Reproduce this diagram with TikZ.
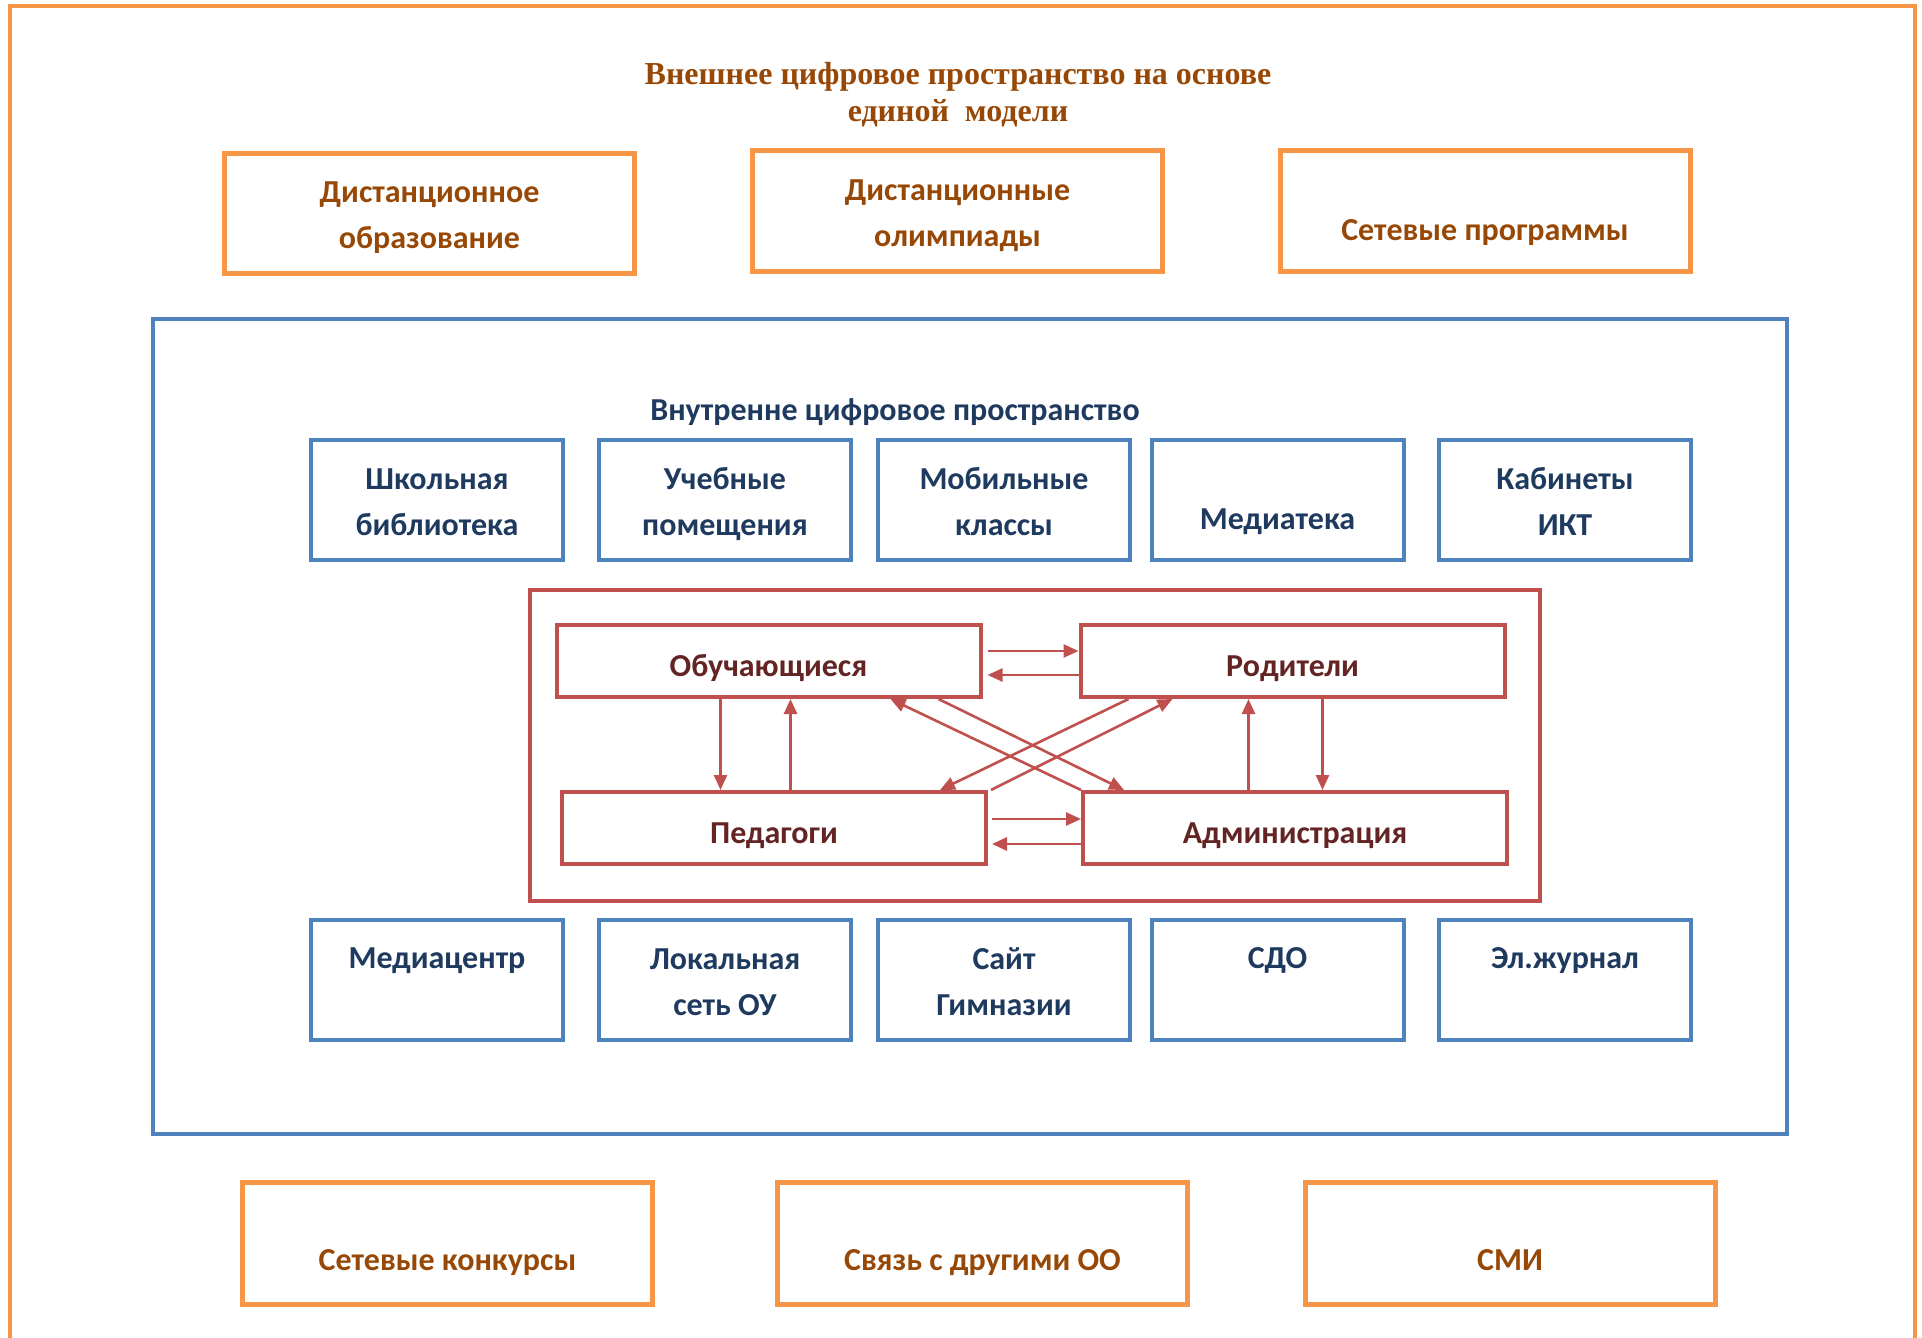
\documentclass[tikz,border=0pt]{standalone}
\usepackage{fontspec}
\setmainfont{Carlito}
\newfontfamily\titlefont{Liberation Serif}
\usetikzlibrary{arrows.meta,positioning}
\definecolor{orline}{HTML}{F79646}
\definecolor{ortext}{HTML}{984806}
\definecolor{blline}{HTML}{4F81BD}
\definecolor{bltext}{HTML}{1F3A5F}
\definecolor{rdline}{HTML}{C0504D}
\definecolor{rdtext}{HTML}{632423}
% move a label inside its box without changing the box
\newcommand{\lowtext}[2]{\raisebox{#1}[\height][\depth]{#2}}

\begin{document}
\begin{tikzpicture}[
    x = 0.5pt, y = -0.5pt,
    > = {Triangle[length=7.5pt,width=6.5pt]},
    boxfont/.style = {font=\bfseries\fontsize{16}{23}\selectfont},
    boxtext/.style = {boxfont, text height=18pt, text depth=2.5pt},
    twoline/.style = {text height=37.5pt},
    outbox/.style = {draw=orline, line width=2.5pt, minimum width=205pt, minimum height=60pt,
        inner sep=0pt, align=center, text=ortext, boxtext},
    inbox/.style = {draw=blline, line width=2pt, minimum width=126pt, minimum height=60pt,
        inner sep=0pt, align=center, text=bltext, boxtext},
    actor/.style = {draw=rdline, line width=2pt, minimum width=212pt, minimum height=36pt,
        inner sep=0pt, text=rdtext, boxtext},
    link/.style = {->, draw=rdline, line width=1.3pt}
]
    \useasboundingbox (0,0) rectangle (1922,1338);

    % outer frame, open at the bottom
    \draw[orline, line width=2pt] (10,1345) -- (10,6) -- (1915,6) -- (1915,1345);

    \node[font=\titlefont\bfseries\fontsize{16}{18.5}\selectfont, text=ortext, align=center]
        (outtitle) at (958,95) {Внешнее цифровое пространство на основе\\единой \ модели};

    \node[outbox, twoline] (dist)  at (429.5,213.5) {Дистанционное\\образование};
    \node[outbox, twoline] (olymp) at (957.5,211)   {Дистанционные\\олимпиады};
    \node[outbox] (netp)  at (1485,211)    {\lowtext{-6.75pt}{Сетевые программы}};

    % inner space
    \draw[blline, line width=2pt] (153,319) rectangle (1787,1134);
    \node[boxfont, text=bltext] (intitle) at (895,412) {Внутренне цифровое пространство};

    \node[inbox, twoline] (lib)   at (437,500)    {Школьная\\библиотека};
    \node[inbox, twoline] (rooms) at (725,500)    {Учебные\\помещения};
    \node[inbox, twoline] (mobil) at (1004,500)   {Мобильные\\классы};
    \node[inbox] (media) at (1277.5,500) {\lowtext{-6.75pt}{Медиатека}};
    \node[inbox, twoline] (ikt)   at (1565,500)   {Кабинеты\\ИКТ};

    \node[inbox] (mcent) at (437,980)    {\lowtext{13.5pt}{Медиацентр}};
    \node[inbox, twoline] (lan)   at (725,980)    {Локальная\\сеть ОУ};
    \node[inbox, twoline] (site)  at (1004,980)   {Сайт\\Гимназии};
    \node[inbox] (sdo)   at (1277.5,980) {\lowtext{13.5pt}{СДО}};
    \node[inbox] (ejour) at (1565,980)   {\lowtext{13.5pt}{Эл.журнал}};

    % participants
    \draw[rdline, line width=2pt] (530,590) rectangle (1540,901);
    \node[actor] (pupil)  at (768.5,661) {Обучающиеся};
    \node[actor] (parent) at (1292.5,661) {Родители};
    \node[actor] (teach)  at (774,828)   {Педагоги};
    \node[actor] (admin)  at (1295,828)  {Администрация};

    \draw[link] ([xshift=2.5pt,yshift=5pt]pupil.east) -- ([yshift=5pt]pupil.east -| parent.west);
    \draw[link] ([yshift=-7pt]pupil.east -| parent.west) -- ([xshift=2.5pt,yshift=-7pt]pupil.east);
    \draw[link] ([xshift=-24pt]pupil.south) -- ([xshift=-24pt]pupil.south |- teach.north);
    \draw[link] ([xshift=11pt]pupil.south |- teach.north) -- ([xshift=11pt]pupil.south);
    \draw[link] ([xshift=-22pt]parent.south |- admin.north) -- ([xshift=-22pt]parent.south);
    \draw[link] ([xshift=15pt]parent.south) -- ([xshift=15pt]parent.south |- admin.north);
    \draw[link] ([xshift=2pt,yshift=4.5pt]teach.east) -- ([yshift=4.5pt]teach.east -| admin.west);
    \draw[link] ([yshift=-8pt]teach.east -| admin.west) -- ([xshift=2pt,yshift=-8pt]teach.east);

    \draw[link] (admin.north west) -- ([xshift=61pt]pupil.south);
    \draw[link] ([xshift=85pt]pupil.south) -- ([xshift=-85.5pt]admin.north);
    \draw[link] ([xshift=-82pt]parent.south) -- ([xshift=83pt]teach.north);
    \draw[link] ([xshift=1.5pt]teach.north east) -- ([xshift=-60pt]parent.south);

    \node[outbox, minimum height=61pt] (contest) at (447.5,1243) {\lowtext{-6pt}{Сетевые конкурсы}};
    \node[outbox, minimum height=61pt] (others)  at (982.5,1243) {\lowtext{-6pt}{Связь с другими ОО}};
    \node[outbox, minimum height=61pt] (smi)     at (1510,1243)  {\lowtext{-6pt}{СМИ}};
\end{tikzpicture}
\end{document}
